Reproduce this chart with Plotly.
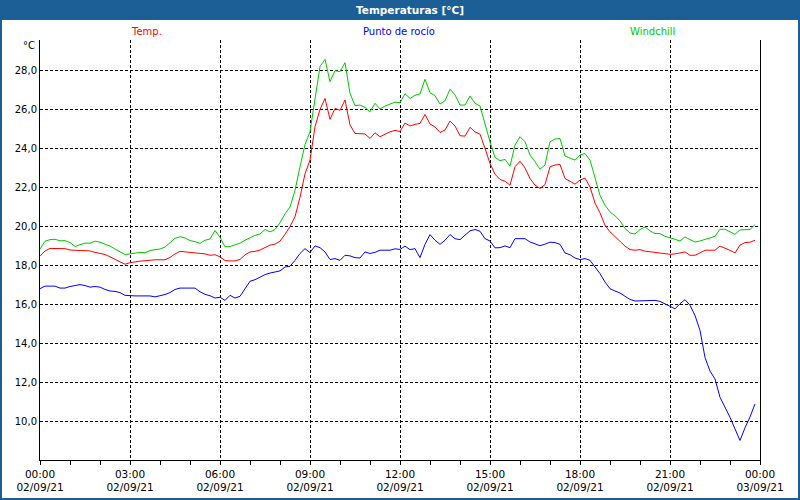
import pandas as pd
import plotly.graph_objects as go

# 10-minute readings, 02/09/21 00:00 .. 23:50
start = "2021-09-02 00:00"
n_points = 144

temp = [18.48, 18.75, 18.88, 18.88, 18.87, 18.87, 18.8, 18.77, 18.77, 18.77, 18.75, 18.68,
        18.63, 18.57, 18.45, 18.32, 18.2, 18.07, 18.15, 18.2, 18.23, 18.25, 18.28, 18.3,
        18.3, 18.3, 18.42, 18.6, 18.73, 18.7, 18.66, 18.64, 18.62, 18.6, 18.53, 18.56,
        18.45, 18.26, 18.24, 18.24, 18.32, 18.55, 18.7, 18.73, 18.8, 18.92, 19.05, 19.1,
        19.25, 19.6, 20.0, 20.5, 21.5, 22.7, 23.4, 25.11, 26.0, 26.56, 25.49, 26.05,
        25.95, 26.48, 25.2, 24.77, 24.75, 24.74, 24.51, 24.8, 24.6, 24.72, 24.85, 24.92,
        24.87, 25.3, 25.15, 25.23, 25.28, 25.74, 25.25, 25.1, 24.82, 24.94, 25.4, 25.15,
        24.65, 24.63, 25.08, 24.85, 24.73, 24.0, 23.23, 22.68, 22.41, 22.32, 22.12, 23.06,
        23.35, 23.0, 22.46, 22.12, 21.95, 22.15, 23.06, 23.15, 23.18, 22.46, 22.32, 22.17,
        22.38, 22.48, 22.03, 21.2, 20.7, 20.07, 19.73, 19.48, 19.25, 19.0, 18.82, 18.79,
        18.82, 18.74, 18.71, 18.68, 18.65, 18.62, 18.58, 18.6, 18.64, 18.7, 18.53, 18.53,
        18.65, 18.79, 18.79, 18.79, 19.0, 18.9, 18.78, 18.65, 19.05, 19.18, 19.2, 19.3]

dew_point = [16.82, 16.95, 16.95, 16.95, 16.85, 16.85, 16.93, 16.98, 17.03, 16.98, 16.9, 16.93,
             16.9, 16.78, 16.7, 16.68, 16.62, 16.48, 16.45, 16.45, 16.45, 16.45, 16.45, 16.4,
             16.46, 16.52, 16.62, 16.78, 16.85, 16.85, 16.85, 16.85, 16.66, 16.53, 16.46, 16.34,
             16.38, 16.22, 16.48, 16.34, 16.43, 16.82, 17.2, 17.28, 17.42, 17.54, 17.62, 17.68,
             17.73, 17.93, 17.97, 18.27, 18.62, 18.87, 18.67, 19.01, 18.92, 18.7, 18.31, 18.36,
             18.27, 18.53, 18.5, 18.41, 18.39, 18.7, 18.62, 18.68, 18.79, 18.79, 18.79, 18.86,
             18.83, 19.0, 18.82, 18.87, 18.41, 19.09, 19.59, 19.3, 19.09, 19.3, 19.59, 19.38,
             19.33, 19.56, 19.78, 19.85, 19.76, 19.38, 19.26, 18.91, 18.92, 19.01, 18.92, 19.38,
             19.38, 19.38, 19.21, 19.13, 19.02, 19.1, 19.2, 19.18, 19.09, 18.65, 18.56, 18.39,
             18.31, 18.36, 18.27, 17.93, 17.59, 17.16, 16.82, 16.7, 16.6, 16.43, 16.27, 16.19,
             16.19, 16.22, 16.22, 16.22, 16.17, 16.05, 15.91, 15.79, 16.05, 16.26, 15.97, 15.45,
             14.68, 13.3, 12.6, 12.2, 11.26, 10.75, 10.24, 9.64, 9.05, 9.7, 10.25, 10.92]

windchill = [18.85, 19.25, 19.33, 19.35, 19.27, 19.28, 19.18, 18.98, 19.07, 19.15, 19.15, 19.25,
             19.2, 19.12, 19.0, 18.85, 18.73, 18.57, 18.6, 18.64, 18.68, 18.66, 18.77, 18.82,
             18.85, 18.95, 19.2, 19.4, 19.48, 19.42, 19.28, 19.23, 19.14, 19.3, 19.36, 19.8,
             19.45, 18.96, 18.98, 19.05, 19.15, 19.3, 19.43, 19.55, 19.62, 19.85, 19.73, 19.85,
             20.2, 20.65, 21.0, 21.85, 23.06, 24.2, 24.85, 26.5, 28.19, 28.56, 27.42, 27.98,
             27.93, 28.39, 26.82, 26.19, 26.22, 26.1, 25.88, 26.31, 26.02, 26.17, 26.27, 26.37,
             26.34, 26.8, 26.56, 26.72, 26.79, 27.54, 26.85, 26.7, 26.27, 26.44, 27.03, 26.74,
             26.22, 26.22, 26.68, 26.31, 26.17, 25.2, 24.34, 23.54, 23.37, 23.44, 23.09, 24.17,
             24.6, 24.34, 23.66, 23.32, 22.94, 23.15, 24.34, 24.48, 24.51, 23.61, 23.49, 23.4,
             23.66, 23.74, 23.4, 22.46, 21.6, 21.09, 20.75, 20.55, 20.3, 19.9, 19.67, 19.62,
             19.85, 19.98, 19.78, 19.64, 19.64, 19.5, 19.44, 19.35, 19.26, 19.47, 19.33, 19.21,
             19.26, 19.36, 19.42, 19.5, 19.86, 19.86, 19.73, 19.6, 19.83, 19.85, 19.85, 20.1]

tick_times = ["2021-09-02 00:00", "2021-09-02 03:00", "2021-09-02 06:00", "2021-09-02 09:00",
              "2021-09-02 12:00", "2021-09-02 15:00", "2021-09-02 18:00", "2021-09-02 21:00",
              "2021-09-03 00:00"]
tick_labels = ["00:00<br>02/09/21", "03:00<br>02/09/21", "06:00<br>02/09/21", "09:00<br>02/09/21",
               "12:00<br>02/09/21", "15:00<br>02/09/21", "18:00<br>02/09/21", "21:00<br>02/09/21",
               "00:00<br>03/09/21"]
y_ticks = [10, 12, 14, 16, 18, 20, 22, 24, 26, 28]

times = pd.date_range(start, periods=n_points, freq="10min")

FONT = "DejaVu Sans"
FRAME = "#1c5f97"
W, H = 800, 500
L, R, T, B = 40, 40, 40, 40
PW, PH = W - L - R, H - T - B


def px(x):
    return (x - L) / PW


def py(y):
    return (H - B - y) / PH


fig = go.Figure()
fig.add_trace(go.Scatter(x=times, y=dew_point, mode="lines", name="Punto de rocío",
                         line=dict(color="#0000ff", width=1)))
fig.add_trace(go.Scatter(x=times, y=windchill, mode="lines", name="Windchill",
                         line=dict(color="#00c800", width=1)))
fig.add_trace(go.Scatter(x=times, y=temp, mode="lines", name="Temp.",
                         line=dict(color="#ff0000", width=1)))

fig.update_layout(
    width=W, height=H, autosize=False,
    margin=dict(l=L, r=R, t=T, b=B, pad=0, autoexpand=False),
    paper_bgcolor="white", plot_bgcolor="white",
    showlegend=False,
    separators=",.",
    font=dict(family=FONT, size=10, color="#000000"),
    xaxis=dict(
        type="date", automargin=False,
        range=["2021-09-02 00:00", "2021-09-03 00:00"],
        tickmode="array", tickvals=tick_times, ticktext=tick_labels,
        showgrid=True, gridcolor="#000000", griddash="3px,2px", gridwidth=1,
        showline=True, linecolor="#000000", linewidth=1,
        ticks="outside", ticklen=4, tickcolor="#000000", tickwidth=1,
        minor=dict(dtick=3600000, ticks="outside", ticklen=4, tickcolor="#000000",
                   showgrid=False),
        tickfont=dict(family=FONT, size=10.5, color="#000000"),
        zeroline=False, fixedrange=True,
    ),
    yaxis=dict(
        range=[8.05, 29.55], automargin=False,
        tickmode="array", tickvals=y_ticks, tickformat=".1f",
        showgrid=True, gridcolor="#000000", griddash="3px,2px", gridwidth=1,
        showline=True, linecolor="#000000", linewidth=1, mirror=True,
        ticks="", tickfont=dict(family=FONT, size=10, color="#000000"),
        zeroline=False, fixedrange=True,
    ),
    shapes=[
        dict(type="rect", xref="paper", yref="paper",
             x0=px(0), x1=px(800), y0=py(20), y1=py(0),
             fillcolor=FRAME, line=dict(width=0), layer="below"),
        dict(type="rect", xref="paper", yref="paper",
             x0=px(1), x1=px(799), y0=py(499), y1=py(1),
             line=dict(color=FRAME, width=2), layer="below"),
    ],
    annotations=[
        dict(text="<b>Temperaturas [°C]</b>", xref="paper", yref="paper",
             x=px(410), y=py(10), xanchor="center", yanchor="middle", showarrow=False,
             font=dict(family=FONT, size=10.5, color="white")),
        dict(text="Temp.", xref="paper", yref="paper", x=px(146), y=py(31),
             xanchor="center", yanchor="middle", showarrow=False,
             font=dict(family=FONT, size=10, color="#ff0000")),
        dict(text="Punto de rocío", xref="paper", yref="paper", x=px(399), y=py(31),
             xanchor="center", yanchor="middle", showarrow=False,
             font=dict(family=FONT, size=10, color="#0000ff")),
        dict(text="Windchill", xref="paper", yref="paper", x=px(652), y=py(31),
             xanchor="center", yanchor="middle", showarrow=False,
             font=dict(family=FONT, size=10, color="#00c800")),
        dict(text="°C", xref="paper", yref="paper", x=px(37), y=py(46),
             xanchor="right", yanchor="middle", showarrow=False,
             font=dict(family=FONT, size=10, color="#000000")),
    ],
)

fig.write_html("out.html",
               config={"displayModeBar": False, "staticPlot": True},
               post_script="document.body.style.margin='0';document.body.style.overflow='hidden';")
